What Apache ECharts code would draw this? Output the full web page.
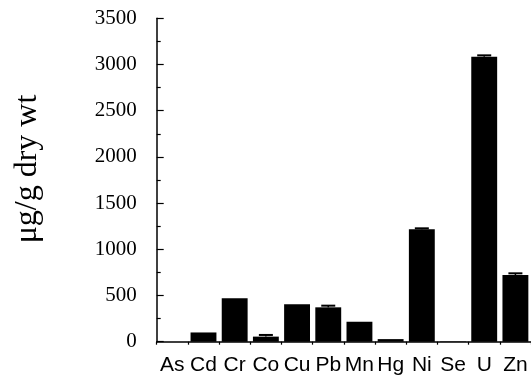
<!DOCTYPE html>
<html>
<head>
<meta charset="utf-8">
<script src="https://cdn.jsdelivr.net/npm/echarts@6/dist/echarts.min.js"></script>
<style>
  html, body { margin: 0; padding: 0; background: #fff; }
  #chart { width: 531px; height: 379px; }
</style>
</head>
<body>
<div id="chart"></div>
<script>
// Metal concentrations (µg/g dry weight) with standard errors
const elements = ['As', 'Cd', 'Cr', 'Co', 'Cu', 'Pb', 'Mn', 'Hg', 'Ni', 'Se', 'U', 'Zn'];
const concentrations = [0, 100, 470, 55, 405, 372, 216, 28, 1216, 4, 3084, 722];
const errors = [0, 0, 0, 18, 0, 18, 0, 0, 11, 0, 15, 18];
const yTicks = [0, 500, 1000, 1500, 2000, 2500, 3000, 3500];

const chart = echarts.init(document.getElementById('chart'), null, { renderer: 'canvas' });

const errorData = elements.map((_, i) => [i, concentrations[i], errors[i]]);

chart.setOption({
  animation: false,
  backgroundColor: '#fff',
  grid: { left: 156.7, top: 18.3, width: 378, bottom: 37.3, containLabel: false },
  xAxis: {
    type: 'category',
    data: elements,
    boundaryGap: true,
    axisLine: { lineStyle: { color: '#000', width: 1.5 } },
    axisTick: { show: true, length: 3, lineStyle: { color: '#000', width: 1.2 } },
    axisLabel: {
      color: '#000', fontFamily: 'Liberation Sans', fontSize: 21,
      margin: 13, interval: 0
    }
  },
  yAxis: {
    type: 'value',
    min: yTicks[0],
    max: yTicks[yTicks.length - 1],
    interval: 500,
    splitLine: { show: false },
    axisLine: { show: true, lineStyle: { color: '#000', width: 1.5 } },
    axisTick: { show: true, inside: true, length: 7, lineStyle: { color: '#000', width: 1.2 } },
    minorTick: { show: true, splitNumber: 2, length: 4, lineStyle: { color: '#000', width: 1.2 } },
    axisLabel: {
      color: '#000', fontFamily: 'Liberation Serif', fontSize: 21,
      margin: 20, padding: [5, 0, 0, 0],
      formatter: function (v) { return String(v); }
    }
  },
  graphic: [{
    type: 'text',
    x: 28,
    y: 169,
    rotation: Math.PI / 2,
    style: {
      text: 'μg/g dry wt',
      font: '32px "Liberation Serif"',
      fill: '#000',
      textAlign: 'center',
      textVerticalAlign: 'middle'
    }
  }],
  series: [
    {
      type: 'bar',
      data: concentrations,
      barCategoryGap: '17%',
      itemStyle: { color: '#000' }
    },
    {
      type: 'custom',
      data: errorData,
      z: 3,
      renderItem: function (params, api) {
        const i = api.value(0);
        const v = api.value(1);
        const e = api.value(2);
        if (!e) return null;
        const base = api.coord([i, v]);
        const top = api.coord([i, v + e]);
        const half = 7;
        return {
          type: 'group',
          children: [
            { type: 'line', shape: { x1: base[0], y1: base[1], x2: top[0], y2: top[1] },
              style: { stroke: '#000', lineWidth: 1.5 } },
            { type: 'line', shape: { x1: top[0] - half, y1: top[1], x2: top[0] + half, y2: top[1] },
              style: { stroke: '#000', lineWidth: 2 } }
          ]
        };
      }
    }
  ]
});
</script>
</body>
</html>
